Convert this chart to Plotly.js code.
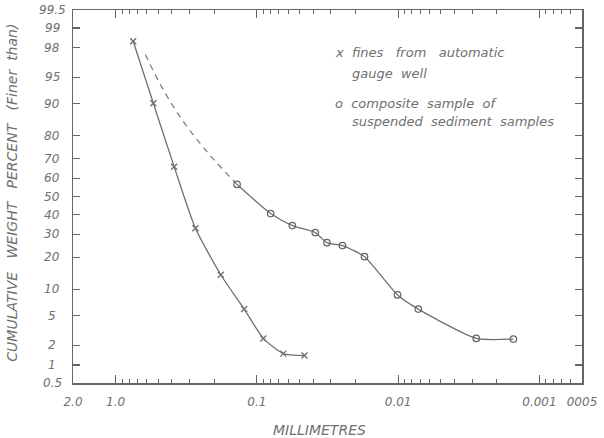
<!DOCTYPE html>
<html>
<head>
<meta charset="utf-8">
<script src="https://cdn.plot.ly/plotly-3.0.1.min.js"></script>
<style>
  html, body { margin: 0; padding: 0; background: #fff; }
  #chart { width: 604px; height: 438px; }
</style>
</head>
<body>
<div id="chart"></div>
<script>
// Particle size (mm) vs cumulative weight percent finer, on a probability scale.

// x: fines from automatic gauge well
const finesSize = [0.75, 0.54, 0.385, 0.272, 0.18, 0.123, 0.09, 0.065, 0.046];
const finesPct  = [98.4, 90.1, 66.0, 33.0, 14.0, 6.0, 2.5, 1.5, 1.4];

// o: composite sample of suspended sediment samples
const compSize = [0.138, 0.0798, 0.0561, 0.0386, 0.0319, 0.0248, 0.0173, 0.0101, 0.0072, 0.0028, 0.00153];
const compPct  = [56.6, 40.7, 34.4, 30.9, 26.2, 24.9, 20.3, 8.7, 6.0, 2.5, 2.45];

// dashed extension of the composite curve toward coarser sizes
const extSize = [0.615, 0.4645, 0.330, 0.2195, 0.138];
const extPct  = [97.5, 93.2, 84.9, 72.3, 56.6];

// axis ticks
const yTickVals  = [0.5, 1, 2, 5, 10, 20, 30, 40, 50, 60, 70, 80, 90, 95, 98, 99, 99.5];
const yTickText  = ['0.5', '1', '2', '5', '10', '20', '30', '40', '50', '60', '70', '80', '90', '95', '98', '99', '99.5'];
const xTickVals  = [2, 1, 0.1, 0.01, 0.001, 0.0005];
const xTickText  = ['2.0', '1.0', '0.1', '0.01', '0.001', '0005'];
const xMinorVals = [0.9, 0.8, 0.7, 0.6, 0.5, 0.4, 0.3, 0.2,
                    0.09, 0.08, 0.07, 0.06, 0.05, 0.04, 0.03, 0.02,
                    0.009, 0.008, 0.007, 0.006, 0.005, 0.004, 0.003, 0.002,
                    0.0009, 0.0008, 0.0007, 0.0006];

// Inverse standard normal CDF (Acklam) -> probability-paper scale
function probit(pct) {
  const p = pct / 100;
  const a = [-3.969683028665376e+01, 2.209460984245205e+02, -2.759285104469687e+02,
             1.383577518672690e+02, -3.066479806614716e+01, 2.506628277459239e+00];
  const b = [-5.447609879822406e+01, 1.615858368580409e+02, -1.556989798598866e+02,
             6.680131188771972e+01, -1.328068155288572e+01];
  const c = [-7.784894002430293e-03, -3.223964580411365e-01, -2.400758277161838e+00,
             -2.549671010050074e+00, 4.374664141464968e+00, 2.938163982698783e+00];
  const d = [7.784695709041462e-03, 3.224671290700398e-01, 2.445134137142996e+00,
             3.754408661907416e+00];
  const pl = 0.02425, ph = 1 - pl;
  let q, r;
  if (p < pl) {
    q = Math.sqrt(-2 * Math.log(p));
    return (((((c[0]*q+c[1])*q+c[2])*q+c[3])*q+c[4])*q+c[5]) / ((((d[0]*q+d[1])*q+d[2])*q+d[3])*q+1);
  }
  if (p <= ph) {
    q = p - 0.5; r = q * q;
    return (((((a[0]*r+a[1])*r+a[2])*r+a[3])*r+a[4])*r+a[5])*q / (((((b[0]*r+b[1])*r+b[2])*r+b[3])*r+b[4])*r+1);
  }
  q = Math.sqrt(-2 * Math.log(1 - p));
  return -(((((c[0]*q+c[1])*q+c[2])*q+c[3])*q+c[4])*q+c[5]) / ((((d[0]*q+d[1])*q+d[2])*q+d[3])*q+1);
}

const ink = '#707070';
const FONT = 'DejaVu Sans, sans-serif';

const traces = [
  {
    x: extSize, y: extPct.map(probit), mode: 'lines', type: 'scatter',
    line: { color: '#808080', width: 1.3, dash: '6px,5px', shape: 'spline', smoothing: 1 },
    hoverinfo: 'skip'
  },
  {
    x: finesSize, y: finesPct.map(probit), mode: 'lines+markers', type: 'scatter',
    line: { color: ink, width: 1.3, shape: 'spline', smoothing: 0.6 },
    marker: { symbol: 'x-thin-open', size: 6, line: { color: '#555', width: 1.4 } }
  },
  {
    x: compSize, y: compPct.map(probit), mode: 'lines+markers', type: 'scatter',
    line: { color: ink, width: 1.3, shape: 'spline', smoothing: 0.6 },
    marker: { symbol: 'circle-open', size: 6.5, color: '#666', line: { color: '#666', width: 1.2 } }
  }
];

// y tick labels, centred in the left margin
const annotations = yTickVals.map((v, i) => ({
  xref: 'paper', yref: 'y', x: -0.041, y: probit(v), xanchor: 'center', yanchor: 'middle',
  text: yTickText[i], showarrow: false,
  font: { family: FONT, size: 12, color: ink, style: 'italic' }
}));

const noteFont = { family: FONT, size: 13, color: ink, style: 'italic' };
[
  ['x  fines   from   automatic', 0.511, 53],
  ['gauge  well', 0.545, 73],
  ['o  composite  sample  of', 0.511, 104],
  ['suspended  sediment  samples', 0.545, 122]
].forEach(([t, px, py]) => {
  annotations.push({
    xref: 'paper', yref: 'paper', x: px, y: 1 - (py - 10) / 373,
    xanchor: 'left', yanchor: 'middle', text: t, showarrow: false, font: noteFont
  });
});

// axis titles
annotations.push({
  xref: 'paper', yref: 'paper', x: -0.12, y: 0.51, xanchor: 'center', yanchor: 'middle',
  textangle: -90, showarrow: false,
  text: 'CUMULATIVE   WEIGHT   PERCENT   (Finer  than)',
  font: { family: FONT, size: 14, color: ink, style: 'italic' }
});
annotations.push({
  xref: 'paper', yref: 'paper', x: (319 - 73) / 509, y: -(430 - 383) / 373,
  xanchor: 'center', yanchor: 'middle', showarrow: false,
  text: 'MILLIMETRES',
  font: { family: FONT, size: 14, color: ink, style: 'italic' }
});

const layout = {
  width: 604, height: 438,
  margin: { l: 73, r: 22, t: 10, b: 55 },
  paper_bgcolor: '#fff', plot_bgcolor: '#fff',
  showlegend: false,
  xaxis: {
    type: 'log',
    range: [Math.log10(2), Math.log10(0.0005)],
    tickmode: 'array', tickvals: xTickVals, ticktext: xTickText,
    ticks: 'inside', ticklen: 8, tickwidth: 1.2, tickcolor: '#666',
    ticklabelstandoff: 7,
    minor: { tickmode: 'array', tickvals: xMinorVals, ticks: 'inside', ticklen: 4, tickwidth: 1, tickcolor: '#666' },
    showline: true, linecolor: '#666', linewidth: 1.5, mirror: 'ticks',
    showgrid: false, zeroline: false,
    tickfont: { family: FONT, size: 12, color: ink, style: 'italic' }
  },
  yaxis: {
    range: [probit(0.5), probit(99.5)],
    tickmode: 'array', tickvals: yTickVals.map(probit),
    ticks: 'inside', ticklen: 7, tickwidth: 1.2, tickcolor: '#666',
    showticklabels: false,
    showline: true, linecolor: '#666', linewidth: 1.5, mirror: 'ticks',
    showgrid: false, zeroline: false
  },
  annotations: annotations
};

Plotly.newPlot('chart', traces, layout, { staticPlot: true, displayModeBar: false });
</script>
</body>
</html>
